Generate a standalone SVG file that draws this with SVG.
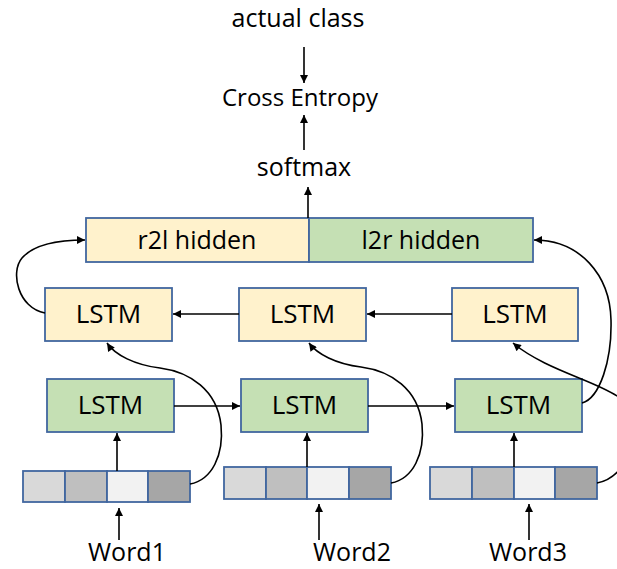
<svg xmlns="http://www.w3.org/2000/svg" width="617" height="569" viewBox="0 0 617 569">
<defs>
<marker id="ah" viewBox="0 0 10 10" refX="10" refY="5" markerUnits="userSpaceOnUse" markerWidth="10" markerHeight="8" orient="auto">
<path d="M0,0 L10,5 L0,10 z" fill="#000"/>
</marker>
<style>
text{font-family:"Open Sans","Liberation Sans",sans-serif;font-size:25px;font-weight:500;fill:#000;text-anchor:middle}
.y{fill:#fff2cc;stroke:#41669f;stroke-width:1.8}
.g{fill:#c5e0b4;stroke:#41669f;stroke-width:1.8}
.c{stroke:#41669f;stroke-width:1.8}
.c1{fill:#d9d9d9}.c2{fill:#bfbfbf}.c3{fill:#f2f2f2}.c4{fill:#a6a6a6}
.ln{fill:none;stroke:#000;stroke-width:1.6;marker-end:url(#ah)}
.lstm{font-size:26px}
</style>
</defs>
<rect width="617" height="569" fill="#fff"/>
<g id="actual"><text x="298" y="27">actual class</text></g>
<g id="crossentropy"><text x="300" y="106" style="font-size:24px">Cross Entropy</text></g>
<g id="softmax"><text x="304" y="176">softmax</text></g>
<g id="hidden">
<rect class="y" x="86" y="218" width="223" height="44"/>
<rect class="g" x="309" y="218" width="224" height="44"/>
<text x="197" y="249">r2l hidden</text>
<text x="421" y="249">l2r hidden</text>
</g>
<g id="r2l1"><rect class="y" x="45" y="288" width="127" height="53"/><text class="lstm" x="108.5" y="323">LSTM</text></g>
<g id="r2l2"><rect class="y" x="239" y="288" width="127" height="53"/><text class="lstm" x="302.5" y="323">LSTM</text></g>
<g id="r2l3"><rect class="y" x="452" y="288" width="126" height="53"/><text class="lstm" x="515" y="323">LSTM</text></g>
<g id="l2r1"><rect class="g" x="47" y="379" width="127" height="53"/><text class="lstm" x="110.5" y="414">LSTM</text></g>
<g id="l2r2"><rect class="g" x="241" y="379" width="127" height="53"/><text class="lstm" x="304.5" y="414">LSTM</text></g>
<g id="l2r3"><rect class="g" x="455" y="379" width="127" height="53"/><text class="lstm" x="518.5" y="414">LSTM</text></g>
<g id="vec1">
<rect class="c c1" x="23" y="471" width="42" height="31"/><rect class="c c2" x="65" y="471" width="42" height="31"/><rect class="c c3" x="107" y="471" width="41" height="31"/><rect class="c c4" x="148" y="471" width="42" height="31"/>
</g>
<g id="vec2">
<rect class="c c1" x="224" y="467" width="42" height="32"/><rect class="c c2" x="266" y="467" width="41" height="32"/><rect class="c c3" x="307" y="467" width="42" height="32"/><rect class="c c4" x="349" y="467" width="42" height="32"/>
</g>
<g id="vec3">
<rect class="c c1" x="430" y="467" width="42" height="32"/><rect class="c c2" x="472" y="467" width="42" height="32"/><rect class="c c3" x="514" y="467" width="41" height="32"/><rect class="c c4" x="555" y="467" width="42" height="32"/>
</g>
<g id="word1"><text x="127" y="561">Word1</text></g>
<g id="word2"><text x="352" y="561">Word2</text></g>
<g id="word3"><text x="528" y="561">Word3</text></g>
<g id="connectors">
<path class="ln" d="M304,47 V83"/>
<path class="ln" d="M304,150 V115"/>
<path class="ln" d="M308,218 V187"/>
<path class="ln" d="M452,314 H367"/>
<path class="ln" d="M239,314 H173"/>
<path class="ln" d="M174,406 H240"/>
<path class="ln" d="M368,406 H454"/>
<path class="ln" d="M117,471 V433"/>
<path class="ln" d="M307,467 V433"/>
<path class="ln" d="M514,467 V433"/>
<path class="ln" d="M119,540 V508"/>
<path class="ln" d="M319,540 V504"/>
<path class="ln" d="M529,540 V504"/>
<path class="ln" d="M190,484 C212,480 224,455 221,425 C217,390 190,372 160,368 C135,365 115,355 107,343"/>
<path class="ln" d="M391,483 C413,479 425,454 422,424 C418,389 391,371 361,367 C336,364 317,354 309,343"/>
<path class="ln" d="M597,483 C630,478 650,420 620,398 C600,382 545,370 513,343"/>
<path class="ln" d="M582,403 C600,398 612,360 611,320 C610,275 580,240 534,240"/>
<path class="ln" d="M45,313 C18,308 10,272 22,258 C35,243 60,240 85,240"/>
</g>
</svg>
